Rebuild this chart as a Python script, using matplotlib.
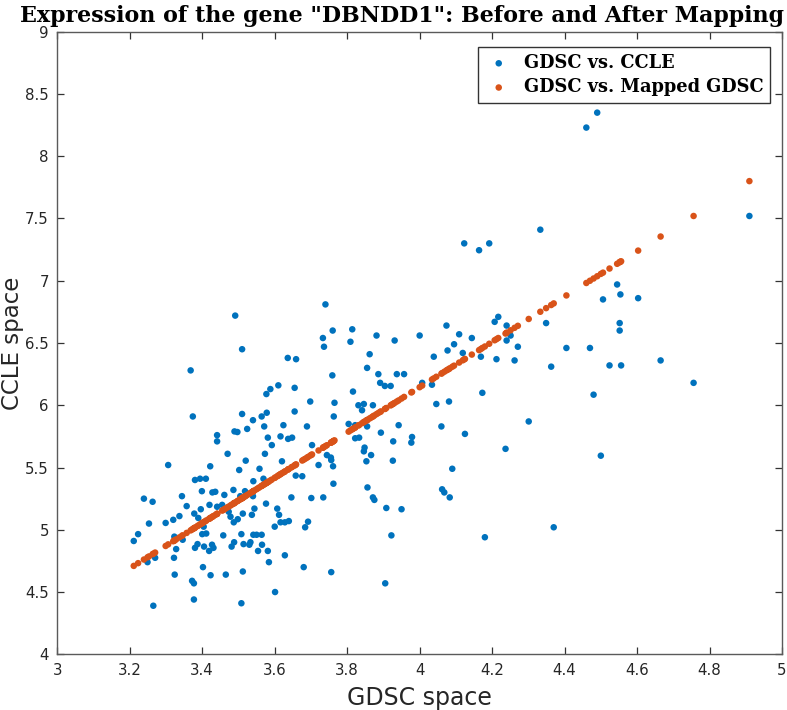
import matplotlib
matplotlib.use("Agg")
import matplotlib.pyplot as plt
from matplotlib.ticker import FixedLocator, FixedFormatter

# GDSC expression (x), CCLE expression (y), and mapped GDSC values (orange)
gdsc = [3.211, 3.223, 3.239, 3.249, 3.253, 3.263, 3.265, 3.270, 3.299, 3.306,
        3.320, 3.322, 3.323, 3.324, 3.328, 3.337, 3.344, 3.346, 3.357, 3.368,
        3.372, 3.374, 3.377, 3.377, 3.378, 3.380, 3.380, 3.387, 3.389, 3.394,
        3.396, 3.399, 3.400, 3.402, 3.404, 3.405, 3.410, 3.411, 3.419, 3.420,
        3.422, 3.423, 3.427, 3.428, 3.431, 3.436, 3.441, 3.441, 3.441, 3.455,
        3.458, 3.461, 3.465, 3.470, 3.473, 3.478, 3.481, 3.486, 3.487, 3.488,
        3.489, 3.491, 3.497, 3.498, 3.502, 3.505, 3.508, 3.508, 3.510, 3.510,
        3.512, 3.512, 3.514, 3.518, 3.520, 3.524, 3.530, 3.533, 3.537, 3.540,
        3.540, 3.541, 3.541, 3.544, 3.550, 3.554, 3.558, 3.564, 3.564, 3.565,
        3.569, 3.571, 3.573, 3.576, 3.577, 3.578, 3.581, 3.581, 3.584, 3.588,
        3.592, 3.600, 3.601, 3.607, 3.610, 3.612, 3.616, 3.616, 3.620, 3.624,
        3.628, 3.628, 3.636, 3.637, 3.639, 3.646, 3.648, 3.655, 3.655, 3.658,
        3.659, 3.676, 3.680, 3.684, 3.689, 3.692, 3.698, 3.701, 3.703, 3.721,
        3.733, 3.734, 3.736, 3.740, 3.744, 3.755, 3.756, 3.756, 3.759, 3.760,
        3.761, 3.762, 3.763, 3.765, 3.804, 3.809, 3.814, 3.816, 3.822, 3.822,
        3.831, 3.833, 3.841, 3.846, 3.846, 3.848, 3.853, 3.855, 3.855, 3.856,
        3.862, 3.866, 3.871, 3.871, 3.875, 3.881, 3.886, 3.891, 3.893, 3.904,
        3.905, 3.908, 3.920, 3.922, 3.926, 3.927, 3.931, 3.937, 3.942, 3.950,
        3.957, 3.977, 3.979, 4.000, 4.007, 4.034, 4.039, 4.046, 4.060, 4.062,
        4.068, 4.074, 4.077, 4.081, 4.083, 4.090, 4.095, 4.109, 4.119, 4.123,
        4.125, 4.144, 4.164, 4.169, 4.173, 4.180, 4.192, 4.207, 4.212, 4.217,
        4.237, 4.240, 4.240, 4.251, 4.262, 4.271, 4.301, 4.333, 4.349, 4.363,
        4.370, 4.405, 4.460, 4.470, 4.480, 4.490, 4.500, 4.506, 4.524, 4.545,
        4.552, 4.552, 4.554, 4.556, 4.603, 4.665, 4.756, 4.910]

ccle = [4.910, 4.965, 5.250, 4.740, 5.050, 5.225, 4.390, 4.775, 5.055, 5.520,
        5.080, 4.775, 4.945, 4.640, 4.845, 5.110, 5.270, 4.920, 5.190, 6.280,
        4.590, 5.910, 4.570, 4.440, 5.130, 5.400, 4.855, 4.885, 5.095, 5.410,
        5.165, 5.310, 4.965, 4.700, 5.025, 4.865, 5.410, 4.970, 4.830, 5.200,
        5.510, 4.635, 4.880, 5.300, 4.855, 5.305, 5.710, 5.760, 5.185, 5.200,
        4.955, 5.280, 4.640, 5.610, 5.145, 5.105, 4.865, 5.320, 5.060, 4.900,
        5.790, 6.720, 5.785, 5.085, 5.480, 5.270, 4.965, 4.410, 5.930, 6.450,
        5.130, 4.665, 4.885, 5.310, 5.555, 5.810, 4.880, 4.900, 5.120, 5.880,
        5.270, 5.390, 4.960, 5.170, 4.960, 4.830, 5.490, 5.910, 4.960, 4.880,
        5.410, 5.830, 5.610, 5.210, 6.090, 5.940, 5.740, 4.830, 4.740, 6.130,
        5.680, 5.025, 4.500, 5.170, 6.160, 5.120, 5.750, 5.060, 5.550, 5.840,
        5.060, 4.795, 6.380, 5.730, 5.070, 5.260, 5.740, 6.140, 5.950, 5.435,
        6.370, 5.430, 4.700, 5.020, 5.830, 5.065, 6.030, 5.255, 5.680, 5.520,
        6.540, 5.260, 6.470, 6.810, 5.600, 5.580, 5.560, 4.660, 6.240, 6.600,
        5.510, 5.370, 5.910, 6.020, 5.850, 6.510, 6.610, 6.110, 5.840, 5.735,
        6.000, 5.740, 5.960, 6.010, 5.630, 5.660, 5.550, 6.300, 5.830, 5.340,
        6.410, 5.600, 6.000, 5.260, 5.240, 6.560, 6.250, 6.180, 5.780, 6.155,
        4.570, 5.175, 6.155, 4.955, 5.555, 5.710, 6.520, 6.250, 5.840, 5.165,
        6.250, 5.700, 5.745, 6.560, 6.180, 6.165, 6.390, 6.010, 5.830, 5.325,
        5.300, 6.640, 6.440, 6.030, 5.260, 5.490, 6.490, 6.570, 6.420, 7.300,
        5.770, 6.540, 7.245, 6.390, 6.100, 4.940, 7.300, 6.670, 6.370, 6.710,
        5.650, 6.640, 6.520, 6.560, 6.360, 6.470, 5.870, 7.410, 6.660, 6.310,
        5.020, 6.460, 8.230, 6.460, 6.085, 8.350, 5.595, 6.850, 6.320, 6.970,
        6.660, 6.600, 6.890, 6.320, 6.860, 6.360, 6.180, 7.520]

mapped = [4.710, 4.732, 4.761, 4.779, 4.786, 4.804, 4.808, 4.817, 4.870, 4.883,
          4.908, 4.912, 4.914, 4.915, 4.923, 4.939, 4.952, 4.955, 4.975, 4.995,
          5.003, 5.006, 5.012, 5.012, 5.014, 5.017, 5.017, 5.030, 5.034, 5.043,
          5.046, 5.052, 5.054, 5.057, 5.061, 5.063, 5.072, 5.074, 5.088, 5.090,
          5.094, 5.095, 5.103, 5.105, 5.110, 5.119, 5.128, 5.128, 5.128, 5.154,
          5.159, 5.165, 5.172, 5.181, 5.186, 5.195, 5.201, 5.210, 5.212, 5.214,
          5.215, 5.219, 5.230, 5.232, 5.239, 5.245, 5.250, 5.250, 5.254, 5.254,
          5.257, 5.257, 5.261, 5.268, 5.272, 5.279, 5.290, 5.296, 5.303, 5.308,
          5.308, 5.310, 5.310, 5.316, 5.326, 5.334, 5.341, 5.352, 5.352, 5.354,
          5.361, 5.365, 5.368, 5.374, 5.376, 5.377, 5.383, 5.383, 5.388, 5.396,
          5.403, 5.417, 5.419, 5.430, 5.436, 5.439, 5.447, 5.447, 5.454, 5.461,
          5.468, 5.468, 5.483, 5.485, 5.488, 5.501, 5.505, 5.517, 5.517, 5.523,
          5.525, 5.556, 5.563, 5.570, 5.579, 5.585, 5.596, 5.601, 5.605, 5.637,
          5.659, 5.661, 5.665, 5.672, 5.679, 5.699, 5.701, 5.701, 5.707, 5.708,
          5.710, 5.712, 5.714, 5.718, 5.788, 5.798, 5.807, 5.810, 5.821, 5.821,
          5.838, 5.841, 5.856, 5.865, 5.865, 5.869, 5.878, 5.881, 5.881, 5.883,
          5.894, 5.901, 5.910, 5.910, 5.918, 5.929, 5.938, 5.947, 5.950, 5.970,
          5.972, 5.978, 5.999, 6.003, 6.010, 6.012, 6.019, 6.030, 6.039, 6.054,
          6.067, 6.103, 6.107, 6.145, 6.158, 6.207, 6.216, 6.229, 6.254, 6.258,
          6.269, 6.280, 6.285, 6.292, 6.296, 6.309, 6.318, 6.343, 6.361, 6.369,
          6.372, 6.407, 6.443, 6.452, 6.460, 6.472, 6.494, 6.522, 6.531, 6.540,
          6.576, 6.582, 6.582, 6.602, 6.622, 6.638, 6.693, 6.751, 6.780, 6.805,
          6.818, 6.882, 6.982, 7.000, 7.018, 7.036, 7.055, 7.065, 7.098, 7.136,
          7.149, 7.149, 7.153, 7.156, 7.242, 7.355, 7.520, 7.800]

x_ticks = [3.0, 3.2, 3.4, 3.6, 3.8, 4.0, 4.2, 4.4, 4.6, 4.8, 5.0]
x_tick_labels = ["3", "3.2", "3.4", "3.6", "3.8", "4", "4.2", "4.4", "4.6", "4.8", "5"]
y_ticks = [4.0, 4.5, 5.0, 5.5, 6.0, 6.5, 7.0, 7.5, 8.0, 8.5, 9.0]
y_tick_labels = ["4", "4.5", "5", "5.5", "6", "6.5", "7", "7.5", "8", "8.5", "9"]

title_text = 'Expression of the gene "DBNDD1": Before and After Mapping'
series_labels = ["GDSC vs. CCLE", "GDSC vs. Mapped GDSC"]
x_label = "GDSC space"
y_label = "CCLE space"

BLUE = "#0072BD"
ORANGE = "#D95319"
AXCOL = "#5a5a5a"

fig = plt.figure(figsize=(7.87, 7.10), dpi=100)
ax_w = (782 - 57.3)
ax_h = (654.3 - 31.7)
ax = fig.add_axes([57.3 / 787, (710 - 654.3) / 710, ax_w / 787, ax_h / 710])

ax.scatter(gdsc, ccle, s=22, color=BLUE, edgecolors="none", label=series_labels[0], zorder=2)
ax.scatter(gdsc, mapped, s=22, color=ORANGE, edgecolors="none", label=series_labels[1], zorder=3)

ax.set_xlim(3, 5)
ax.set_ylim(4, 9)
ax.xaxis.set_major_locator(FixedLocator(x_ticks))
ax.xaxis.set_major_formatter(FixedFormatter(x_tick_labels))
ax.yaxis.set_major_locator(FixedLocator(y_ticks))
ax.yaxis.set_major_formatter(FixedFormatter(y_tick_labels))

for sp in ax.spines.values():
    sp.set_color(AXCOL)
    sp.set_linewidth(1.0)
ax.tick_params(direction="in", length=5, width=0.9, color="#333333",
               top=True, right=True, labelsize=10.8, labelcolor="#262626", pad=6)
for lab in ax.get_xticklabels() + ax.get_yticklabels():
    lab.set_family("DejaVu Sans")

ax.set_xlabel(x_label, fontsize=17, color="#262626", labelpad=6, family="DejaVu Sans")
ax.set_ylabel(y_label, fontsize=16.5, color="#262626", family="DejaVu Sans")
ax.yaxis.set_label_coords((24 - 57.3) / ax_w, 0.5)

fig.text(402 / 787, 1 - 22 / 710, title_text, ha="center", va="baseline",
         fontsize=15.9, fontweight="bold", family="DejaVu Serif", color="black")

leg = ax.legend(loc="upper right", bbox_to_anchor=(1 - 12 / ax_w, 1 - 15.5 / ax_h),
                borderaxespad=0.0,
                frameon=True, fancybox=False, edgecolor="#333333", framealpha=1,
                prop={"family": "DejaVu Serif", "weight": "bold", "size": 12.8},
                handletextpad=0.6, borderpad=0.38, labelspacing=0.35, markerscale=1.0,
                handlelength=1.6)
leg.get_frame().set_linewidth(1.0)

fig.savefig("out.png", dpi=100)
